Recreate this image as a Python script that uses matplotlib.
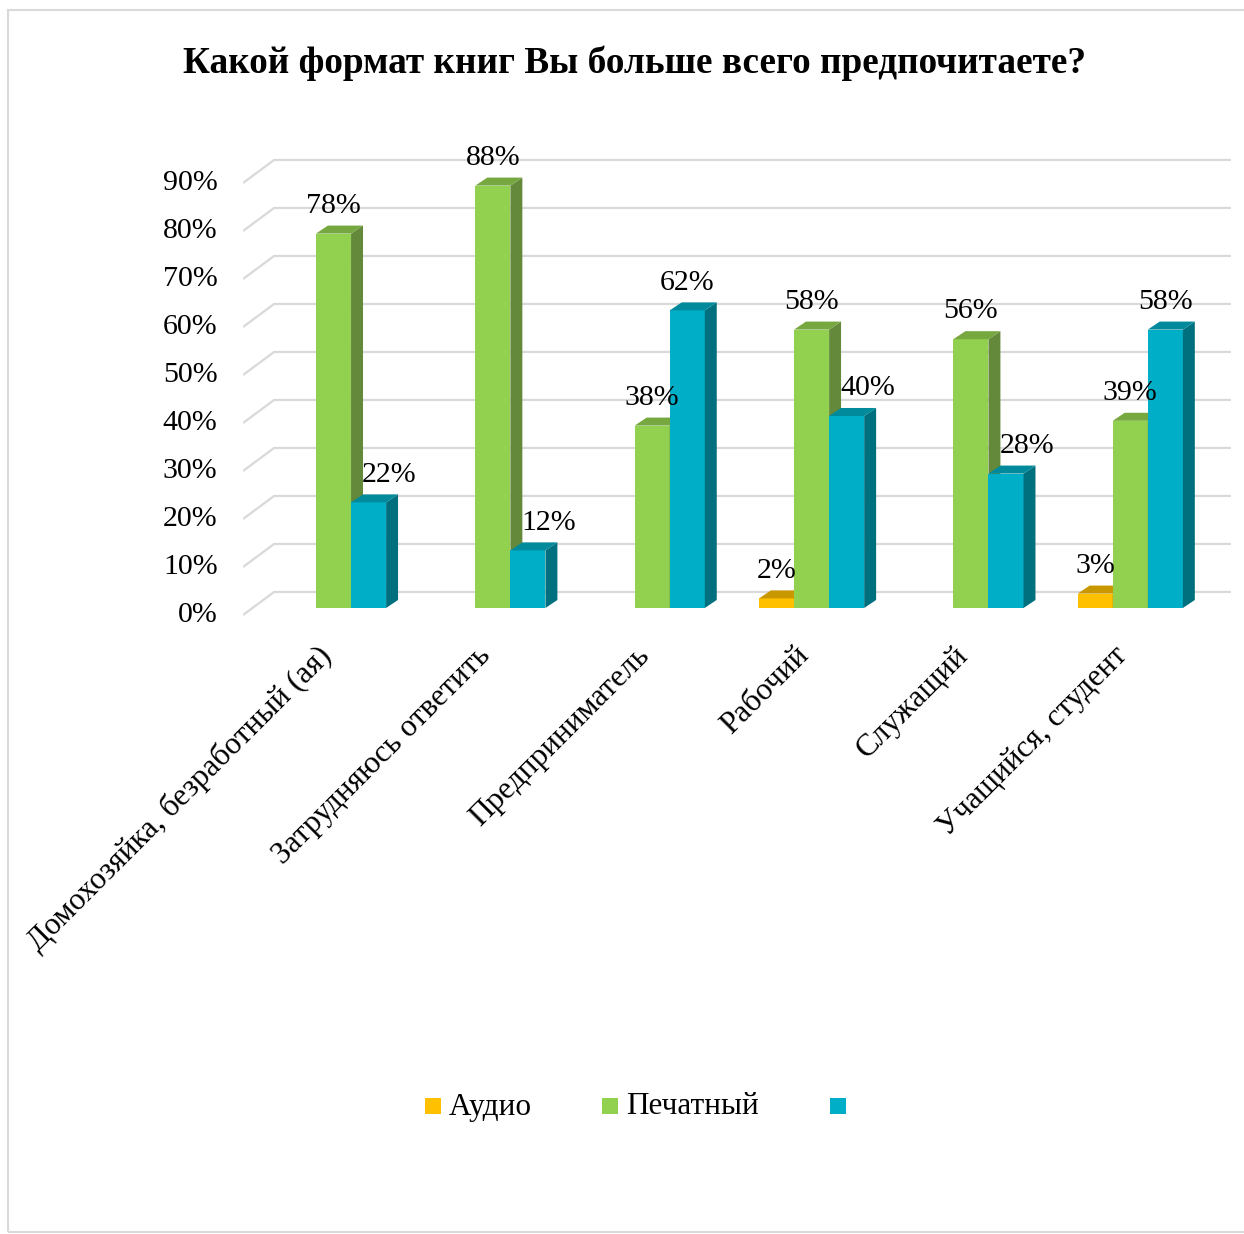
import matplotlib.pyplot as plt
from matplotlib.patches import Polygon, Rectangle

# Data
categories = ['Домохозяйка, безработный (ая)', 'Затрудняюсь ответить', 'Предприниматель',
              'Рабочий', 'Служащий', 'Учащийся, студент']
audio = [0, 0, 0, 2, 0, 3]
printed = [78, 88, 38, 58, 56, 39]
ebook = [22, 12, 62, 40, 28, 58]
series_names = ['Аудио', 'Печатный', '']
yticks = [0, 10, 20, 30, 40, 50, 60, 70, 80, 90]

# colours: front, side, top
colors = [('#FFC000', '#B88A00', '#C99700'),
          ('#92D050', '#64893A', '#76A83F'),
          ('#00AEC7', '#00707E', '#008A9C')]

plt.rcParams['font.family'] = ['Liberation Serif', 'DejaVu Serif']

fig = plt.figure(figsize=(12.44, 12.34), dpi=100)
ax = fig.add_axes([243 / 1244, 1 - 624.6 / 1234, (1231 - 243) / 1244, (624.6 - 149.4) / 1234])
ax.set_xlim(0, 6.2)
ax.set_ylim(-2, 97)
ax.axis('off')

# pseudo 3d geometry (data units)
floor_dx, floor_dy = 0.195, 4.8
bar_dx, bar_dy = 0.075, 1.67
bar_w = 0.22
base = 1.46

# walls / gridlines
for v in yticks:
    ax.plot([0, floor_dx, 6.2], [v, v + floor_dy, v + floor_dy], color='#d9d9d9', lw=1.6,
            solid_capstyle='butt', zorder=1)
    ax.text(-0.16, v, f'{v}%', ha='right', va='center', fontsize=21.5)


def bar3d(x0, h, c):
    front, side, top = c
    ax.add_patch(Rectangle((x0, base), bar_w, h, facecolor=front, edgecolor='none', zorder=2))
    ax.add_patch(Polygon([(x0 + bar_w, base), (x0 + bar_w + bar_dx, base + bar_dy),
                          (x0 + bar_w + bar_dx, base + h + bar_dy), (x0 + bar_w, base + h)],
                         facecolor=side, edgecolor='none', zorder=2))
    ax.add_patch(Polygon([(x0, base + h), (x0 + bar_dx, base + h + bar_dy),
                          (x0 + bar_w + bar_dx, base + h + bar_dy), (x0 + bar_w, base + h)],
                         facecolor=top, edgecolor='none', zorder=2))


for i in range(len(categories)):
    green_left = i + 0.458
    vals = [audio[i], printed[i], ebook[i]]
    for k, v in enumerate(vals):
        if v == 0:
            continue
        x0 = green_left + (k - 1) * bar_w
        bar3d(x0, v, colors[k])
        lx = x0 + bar_w / 2
        # nudge label right if it would sit on the taller neighbour
        if k == 2 and v < printed[i]:
            lx += 0.13
        ax.text(lx, base + v + 5.8, f'{v}%', ha='center', va='center', fontsize=21.5, zorder=5)
    ax.text(i + 0.46, -5.4, categories[i], rotation=45, rotation_mode='anchor',
            ha='right', va='top', fontsize=22.5)

# title
fig.text(635 / 1244, 1 - 63 / 1234, 'Какой формат книг Вы больше всего предпочитаете?',
         ha='center', va='center', fontsize=26.8, fontweight='bold')

# legend
leg_x = [425, 602, 830]
for k in range(3):
    fig.patches.append(Rectangle((leg_x[k] / 1244, 1 - 1114 / 1234), 16 / 1244, 16 / 1234,
                                 transform=fig.transFigure, facecolor=colors[k][0],
                                 edgecolor='none'))
    if series_names[k]:
        fig.text((leg_x[k] + 24) / 1244, 1 - 1107 / 1234, series_names[k],
                 ha='left', va='center', fontsize=22.5)

# chart border
fig.patches.append(Rectangle((8 / 1244, 1 - 1232 / 1234), 1.2, 1222 / 1234,
                             transform=fig.transFigure, facecolor='none',
                             edgecolor='#d9d9d9', lw=1.5))

fig.savefig('out.png', dpi=100)
